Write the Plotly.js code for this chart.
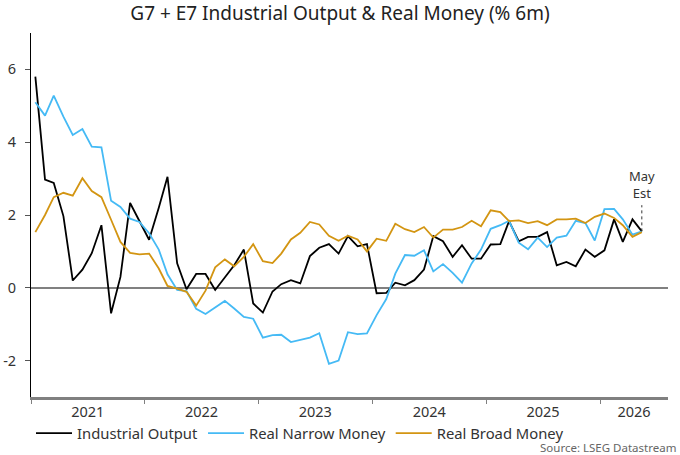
<!DOCTYPE html>
<html>
<head>
<meta charset="utf-8">
<script src="https://cdn.plot.ly/plotly-3.0.1.min.js"></script>
<style>html,body{margin:0;padding:0;background:#fff;}#chart{width:680px;height:455px;}</style>
</head>
<body>
<div id="chart"></div>
<script>
// Monthly observations, Jan 2021 .. May 2026 (% 6m)
var startYear = 2021;
var industrialOutput = [5.8, 2.97, 2.88, 1.97, 0.2, 0.5, 0.95, 1.72, -0.7, 0.3,
  2.33, 1.85, 1.32, 2.2, 3.05, 0.67, -0.04, 0.38, 0.38, -0.06,
  0.3, 0.62, 1.05, -0.43, -0.68, -0.1, 0.1, 0.21, 0.12, 0.87,
  1.1, 1.2, 0.94, 1.42, 1.14, 1.2, -0.15, -0.14, 0.14, 0.07,
  0.21, 0.5, 1.42, 1.28, 0.85, 1.17, 0.8, 0.8, 1.19, 1.2,
  1.83, 1.28, 1.4, 1.4, 1.53, 0.62, 0.71, 0.59, 1.05, 0.85,
  1.03, 1.88, 1.26, 1.88, 1.55];
var realNarrowMoney = [5.1, 4.73, 5.28, 4.7, 4.2, 4.36, 3.88, 3.86, 2.39, 2.22,
  1.9, 1.81, 1.5, 1.05, 0.37, -0.06, -0.09, -0.58, -0.72, -0.54,
  -0.36, -0.57, -0.8, -0.85, -1.37, -1.3, -1.29, -1.49, -1.43, -1.37,
  -1.25, -2.09, -2.0, -1.22, -1.27, -1.25, -0.75, -0.31, 0.39, 0.9,
  0.88, 1.03, 0.45, 0.65, 0.41, 0.14, 0.67, 1.05, 1.62, 1.72,
  1.84, 1.24, 1.06, 1.38, 1.12, 1.38, 1.43, 1.84, 1.78, 1.3,
  2.16, 2.17, 1.88, 1.46, 1.55];
var realBroadMoney = [1.53, 2.0, 2.49, 2.61, 2.53, 3.01, 2.66, 2.49, 1.87, 1.26,
  0.96, 0.92, 0.94, 0.53, 0.05, -0.02, -0.11, -0.49, -0.08, 0.56,
  0.78, 0.59, 0.85, 1.2, 0.73, 0.68, 0.94, 1.33, 1.51, 1.81,
  1.74, 1.43, 1.29, 1.43, 1.33, 1.0, 1.35, 1.29, 1.76, 1.61,
  1.53, 1.67, 1.38, 1.6, 1.6, 1.67, 1.84, 1.69, 2.13, 2.08,
  1.83, 1.85, 1.78, 1.83, 1.72, 1.88, 1.88, 1.9, 1.78, 1.95,
  2.04, 1.92, 1.72, 1.4, 1.53];

var seriesNames = ['Industrial Output', 'Real Narrow Money', 'Real Broad Money'];
var seriesColors = ['#000000', '#45baf5', '#d39512'];

var yearLabels = ['2021', '2022', '2023', '2024', '2025', '2026'];
var yearLabelDates = ['2021-07-02', '2022-07-02', '2023-07-02', '2024-07-02', '2025-07-02', '2026-04-20'];
var yearBoundaryDates = ['2021-01-01', '2022-01-01', '2023-01-01', '2024-01-01', '2025-01-01', '2026-01-01'];
var yTickVals = [-2, 0, 2, 4, 6];
var yTickText = ['-2', '0', '2', '4', '6'];

var xRange = ['2021-01-01', '2026-08-07'];
var estNoteTop = 2.27;

function pad(n) { return (n < 10 ? '0' : '') + n; }
var dates = [];
for (var i = 0; i < industrialOutput.length; i++) {
  var y = startYear + Math.floor(i / 12);
  var m = (i % 12) + 1;
  dates.push(y + '-' + pad(m) + '-15');
}

var seriesValues = [industrialOutput, realNarrowMoney, realBroadMoney];
var traces = seriesValues.map(function (vals, k) {
  return {
    type: 'scatter', mode: 'lines', x: dates, y: vals, name: seriesNames[k],
    line: {color: seriesColors[k], width: 1.8}
  };
});

var font = 'Noto Sans, Open Sans, sans-serif';
var lastDate = dates[dates.length - 1];
var lastIO = industrialOutput[industrialOutput.length - 1];

var layout = {
  width: 680, height: 455,
  margin: {l: 31, r: 12, t: 33, b: 58, autoexpand: false},
  paper_bgcolor: '#ffffff', plot_bgcolor: '#ffffff',
  font: {family: font, size: 14, color: '#333333'},
  title: {text: 'G7 + E7 Industrial Output &amp; Real Money (% 6m)', x: 0.5, xref: 'container', xanchor: 'center',
          y: 1 - 13.5 / 455, yref: 'container', yanchor: 'middle', font: {family: font, size: 19, color: '#222222'}},
  showlegend: true,
  legend: {orientation: 'h', x: 0.0, xanchor: 'left', y: -0.055, yanchor: 'top', itemwidth: 36,
           font: {family: font, size: 14.8, color: '#333333'}, bgcolor: 'rgba(0,0,0,0)', traceorder: 'normal'},
  xaxis: {
    type: 'date', range: xRange,
    tickmode: 'array', tickvals: yearLabelDates, ticktext: yearLabels,
    ticks: '', showgrid: false, zeroline: false,
    showline: true, linecolor: '#808080', linewidth: 2.5,
    tickfont: {family: font, size: 14.5, color: '#333333'},
    minor: {tickmode: 'array', tickvals: yearBoundaryDates, ticks: 'outside', ticklen: 4, tickwidth: 1, tickcolor: '#808080', showgrid: false}
  },
  yaxis: {
    range: [-3, 7], tickmode: 'array', tickvals: yTickVals, ticktext: yTickText,
    ticks: 'outside', ticklen: 5, tickwidth: 1, tickcolor: '#555555',
    showgrid: false, zeroline: true, zerolinecolor: '#808080', zerolinewidth: 2,
    showline: true, linecolor: '#000000', linewidth: 1,
    tickfont: {family: font, size: 14.5, color: '#333333'}, ticklabelstandoff: 6
  },
  shapes: [{type: 'line', xref: 'x', yref: 'y', x0: lastDate, x1: lastDate, y0: lastIO, y1: estNoteTop,
            line: {color: '#333333', width: 1, dash: 'dot'}}],
  annotations: [
    {xref: 'x', yref: 'y', x: lastDate, y: estNoteTop, yanchor: 'bottom', xanchor: 'center', showarrow: false,
     text: 'May<br>Est', align: 'center', font: {family: font, size: 13, color: '#333333'}, yshift: 1},
    {xref: 'paper', yref: 'paper', x: 1.016, y: -0.139, xanchor: 'right', yanchor: 'middle', showarrow: false,
     text: 'Source: LSEG Datastream', font: {family: font, size: 11.5, color: '#666666'}}
  ]
};

Plotly.newPlot('chart', traces, layout, {displayModeBar: false, staticPlot: true});
</script>
</body>
</html>
